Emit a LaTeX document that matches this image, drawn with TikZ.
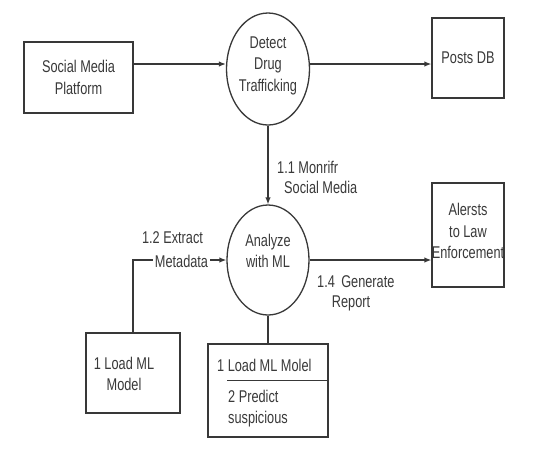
\documentclass[tikz,border=0pt]{standalone}
\usepackage{fontspec}
\setmainfont{Liberation Sans}[FakeStretch=0.75]
\usetikzlibrary{shapes.geometric,arrows.meta,calc}
\definecolor{ink}{HTML}{383838}
\definecolor{txt}{HTML}{3A3A3A}
\begin{document}
\begin{tikzpicture}[x=1pt,y=-1pt,
  every node/.style={text=txt, font=\fontsize{17}{21.5}\selectfont, inner sep=0pt},
  box/.style={draw=ink, line width=1.3pt, rectangle, align=center},
  proc/.style={draw=ink, line width=1.3pt, ellipse},
  flow/.style={draw=ink, line width=1.3pt, -{Latex[length=7pt,width=5.5pt]}},
  plain/.style={draw=ink, line width=1.3pt},
  lbl/.style={align=center}]
\fill[white] (0,0) rectangle (539,451);
\useasboundingbox (0,0) rectangle (539,451);

% helper coordinates for connector heights
\coordinate (y64) at (0,64);

% nodes
\node[box, minimum width=109, minimum height=71] (smp) at (78.5,77.5) {Social Media\\Platform};
\node[proc, minimum width=83, minimum height=112] (detect) at (268,69) {};
\node[lbl] (detectT) at (268,65.5) {Detect\\Drug\\Trafficking};
\node[box, minimum width=72, minimum height=80] (posts) at (468,58) {Posts DB};

\node[proc, minimum width=82, minimum height=110] (analyze) at (268,260) {};
\node[lbl] (analyzeT) at (268,251) {Analyze\\with ML};
\node[box, minimum width=72, minimum height=104] (alerts) at (468,235) {};
\node[lbl] (alertsT) at (468,231) {Alersts\\to Law\\Enforcement};

\node[box, minimum width=94, minimum height=80] (loadml) at (133,373) {};
\node[lbl] (loadmlT) at (124,374) {1 Load ML\\Model};

\node[box, minimum width=120, minimum height=93] (bot) at (268,390.5) {};
\node[anchor=west] (botA) at (217,365) {1 Load ML Molel};
\node[anchor=west, align=left] (botB) at (228,408.5) {2 Predict\\suspicious};
\draw[plain] ($(bot.north west)+(20,37)$) -- ($(bot.north east)+(0,37)$);

% connectors
\draw[flow] (smp.east |- y64) -- (detect.west |- y64);
\draw[flow] (detect.east |- y64) -- (posts.west |- y64);
\draw[flow] (detect.south) -- (analyze.north);
\draw[flow] (analyze.east) -- (analyze.east -| alerts.west);
\draw[flow] (loadml.north) |- (analyze.west);
\draw[plain] (analyze.south) -- (bot.north);

% labels
\node[anchor=west] (l11a) at (277,167) {1.1 Monrifr};
\node[anchor=west] (l11b) at (284,187) {Social Media};
\node (l12a) at (172.5,238) {1.2 Extract};
\node[fill=white, inner xsep=2pt] (l12b) at (181.5,261) {Metadata};
\node[anchor=west] (l14a) at (317,282) {1.4\, Generate};
\node (l14b) at (351,303) {Report};
\end{tikzpicture}
\end{document}
